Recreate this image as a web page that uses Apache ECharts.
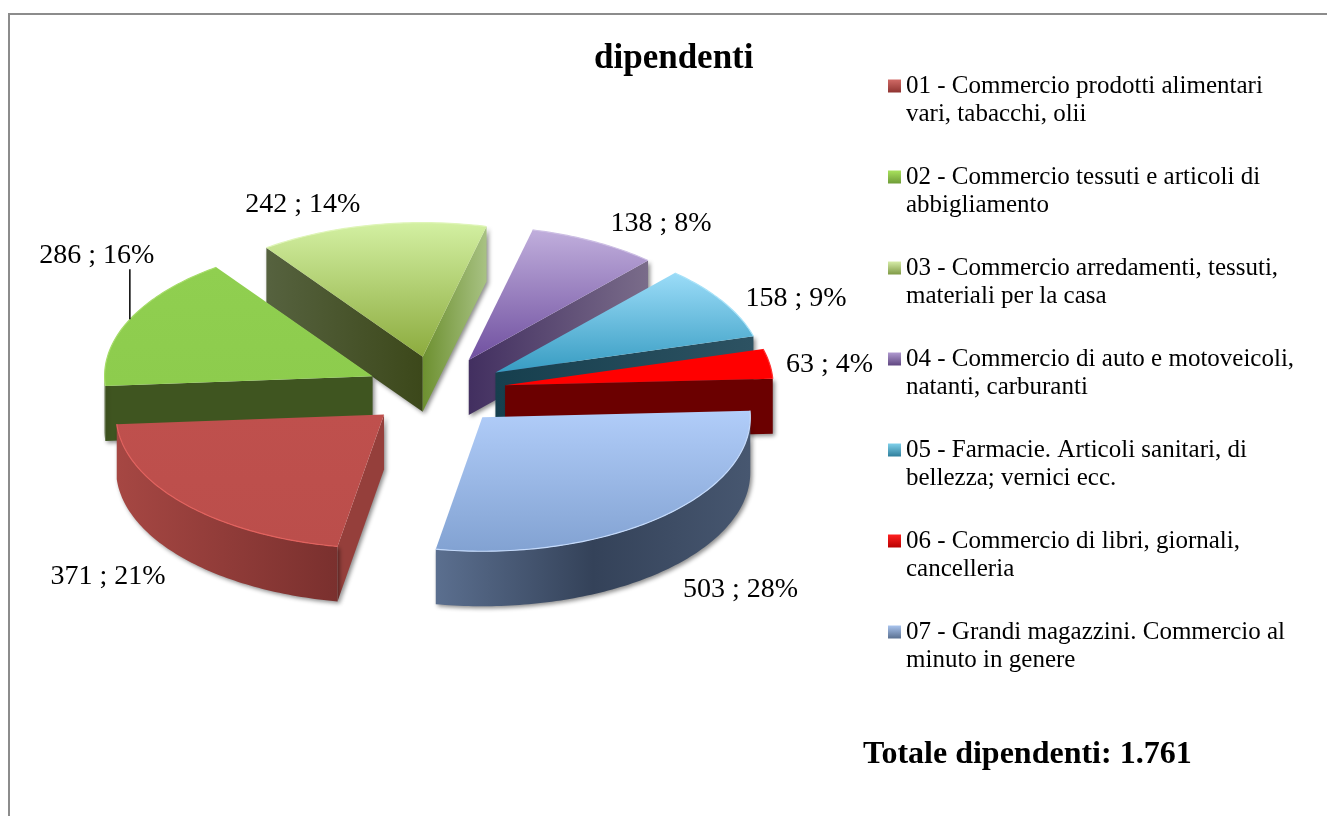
<!DOCTYPE html>
<html>
<head>
<meta charset="utf-8">
<title>dipendenti</title>
<style>
html, body { margin: 0; padding: 0; background: #fff; }
#chart { width: 1327px; height: 816px; }
</style>
<script src="https://cdn.jsdelivr.net/npm/echarts@6/dist/echarts.min.js"></script>
</head>
<body>
<div id="chart"></div>
<script>
// data
const categories = [
  '01 - Commercio prodotti alimentari\nvari, tabacchi, olii',
  '02 - Commercio tessuti e articoli di\nabbigliamento',
  '03 - Commercio arredamenti, tessuti,\nmateriali per la casa',
  '04 - Commercio di auto e motoveicoli,\nnatanti, carburanti',
  '05 - Farmacie. Articoli sanitari, di\nbellezza; vernici ecc.',
  '06 - Commercio di libri, giornali,\ncancelleria',
  '07 - Grandi magazzini. Commercio al\nminuto in genere'
];
const values = [371, 286, 242, 138, 158, 63, 503];
const percentLabels = ['21%', '16%', '14%', '8%', '9%', '4%', '28%'];
const titleText = 'dipendenti';
const totalText = 'Totale dipendenti: 1.761';

// colours per slice: top face, the two cut faces, the outer wall
const topColors = [['#bf504d', '#bb4e4b'], ['#90cf50', '#8dcc4d'], ['#d3f0a2', '#8cab3e'], ['#c0aedc', '#7050a0'], ['#9bdcf8', '#379cc2'], ['#ff0000', '#ff0000'], ['#b1cdf9', '#82a2d2']];
const startColors = [['#953f3b', '#953f3b'], ['#3f5520', '#3f5520'], ['#56623f', '#3c481a'], ['#3c2c55', '#3c2c55'], ['#14404e', '#14404e'], ['#6b0000', '#6b0000'], ['#445268', '#445268']];
const endColors = [['#953f3b', '#953f3b'], ['#3f5520', '#3f5520'], ['#6d9030', '#a8c283'], ['#422f60', '#7a6c8a'], ['#163f4e', '#2d5262'], ['#6b0000', '#6b0000'], ['#445268', '#445268']];
const wallColors = [['#a64743', '#7a302e'], ['#3f5520', '#3f5520'], ['#6d9030', '#6d9030'], ['#422f60', '#422f60'], ['#163f4e', '#163f4e'], ['#6b0000', '#6b0000'], ['#5b6f8f', '#344259', '#475770']];
const edgeColors = ['#e2625e', '#a5dc68', '#dff5b8', '#cdbfe4', '#a8e2f8', '#ff3030', '#c4dafb'];
const legendColors = [['#d06a66', '#8f3431'], ['#a8e25c', '#6f9c38'], ['#d6eca8', '#7f9a45'], ['#b09ad0', '#5f4680'], ['#7fd0ea', '#2f7f9c'], ['#ff2020', '#b80000'], ['#a9c4ee', '#5a7090']];

// layout of the pseudo 3d pie
const cx = 436, cy = 391, rx = 268, ry = 134, depth = 55, explode = 70;
const startAngle = 190;
// label offset from the middle of each arc
const labelShift = [[-77, 72], [-33, -64], [-69, -20], [67, -18], [73, -3], [60, 1], [81, 72]];
// back to front
const drawOrder = [2, 1, 3, 4, 5, 0, 6];

const total = values.reduce((a, b) => a + b, 0);
const rad = d => d * Math.PI / 180;

function sliceAngles(i) {
  let a = startAngle;
  for (let k = 0; k < i; k++) a += values[k] / total * 360;
  return [a, a + values[i] / total * 360];
}

function grad(colors, horizontal) {
  const stops = colors.map((c, n) => ({ offset: n / (colors.length - 1), color: c }));
  return horizontal
    ? new echarts.graphic.LinearGradient(0, 0, 1, 0, stops)
    : new echarts.graphic.LinearGradient(0, 0, 0, 1, stops);
}

function renderSlice(i, val) {
  const [a0, a1] = sliceAngles(i);
  const mid = rad((a0 + a1) / 2);
  const ax = cx + explode * Math.sin(mid);
  const ay = cy - explode * (ry / rx) * Math.cos(mid);
  const on = (deg, d) => [ax + rx * Math.sin(rad(deg)), ay - ry * Math.cos(rad(deg)) + (d || 0)];
  const arc = (from, to, d) => {
    const out = [];
    const n = Math.max(2, Math.ceil(to - from));
    for (let k = 0; k <= n; k++) out.push(on(from + (to - from) * k / n, d));
    return out;
  };
  const shadow = { shadowBlur: 4, shadowOffsetX: 2, shadowOffsetY: 2, shadowColor: 'rgba(0,0,0,0.45)' };
  const children = [];
  const wall = (points, colors) => children.push({
    type: 'polygon',
    shape: { points },
    style: Object.assign({ fill: grad(colors, true) }, shadow)
  });

  // cut faces only when they look to the viewer
  if (-Math.sin(rad(a0)) > 0) {
    wall([[ax, ay], on(a0), on(a0, depth), [ax, ay + depth]], startColors[i]);
  }
  if (Math.sin(rad(a1)) > 0) {
    wall([[ax, ay], on(a1), on(a1, depth), [ax, ay + depth]], endColors[i]);
  }
  // outer wall, front half of the circle
  [[90, 270], [450, 630]].forEach(r => {
    const from = Math.max(a0, r[0]), to = Math.min(a1, r[1]);
    if (to > from) {
      wall(arc(from, to, 0).concat(arc(from, to, depth).reverse()), wallColors[i]);
    }
  });

  children.push({
    type: 'polygon',
    shape: { points: [[ax, ay]].concat(arc(a0, a1, 0)) },
    style: { fill: grad(topColors[i], false) }
  });
  children.push({
    type: 'polyline',
    shape: { points: arc(a0, a1, 0) },
    style: { fill: null, stroke: edgeColors[i], lineWidth: 1.2 }
  });

  const m = on((a0 + a1) / 2);
  if (i === 1) {
    children.push({
      type: 'line',
      shape: { x1: m[0], y1: m[1], x2: m[0], y2: m[1] + labelShift[i][1] + 14 },
      style: { stroke: '#000', lineWidth: 1.5 }
    });
  }
  children.push({
    type: 'text',
    style: {
      text: val + ' ; ' + percentLabels[i],
      x: m[0] + labelShift[i][0],
      y: m[1] + labelShift[i][1],
      align: 'center',
      verticalAlign: 'middle',
      font: '28px "Liberation Serif"',
      fill: '#000'
    }
  });
  return { type: 'group', children };
}

const chart = echarts.init(document.getElementById('chart'));
chart.setOption({
  animation: false,
  backgroundColor: '#fff',
  title: [
    { text: titleText, left: 594, top: 41, padding: 0, textStyle: { fontFamily: 'Liberation Serif', fontWeight: 'bold', fontSize: 35, color: '#000' } },
    { text: totalText, left: 863, top: 739, padding: 0, textStyle: { fontFamily: 'Liberation Serif', fontWeight: 'bold', fontSize: 32, color: '#000' } }
  ],
  legend: {
    left: 888,
    top: 44,
    padding: 0,
    orient: 'vertical',
    selectedMode: false,
    icon: 'rect',
    itemWidth: 13,
    itemHeight: 13,
    itemGap: 7,
    formatter: name => ' \n' + name,
    textStyle: { fontFamily: 'Liberation Serif', fontSize: 25, lineHeight: 28, color: '#000' },
    data: categories.map((name, i) => ({ name, itemStyle: { color: grad(legendColors[i], false) } }))
  },
  graphic: [{
    type: 'rect',
    shape: { x: 9, y: 14, width: 1400, height: 900 },
    style: { fill: null, stroke: '#8c8c8c', lineWidth: 2 },
    silent: true,
    z: -1
  }],
  series: drawOrder.map(i => ({
    type: 'custom',
    name: categories[i],
    coordinateSystem: 'none',
    silent: true,
    data: [values[i]],
    renderItem: (params, api) => renderSlice(i, api.value(0))
  }))
});
</script>
</body>
</html>
